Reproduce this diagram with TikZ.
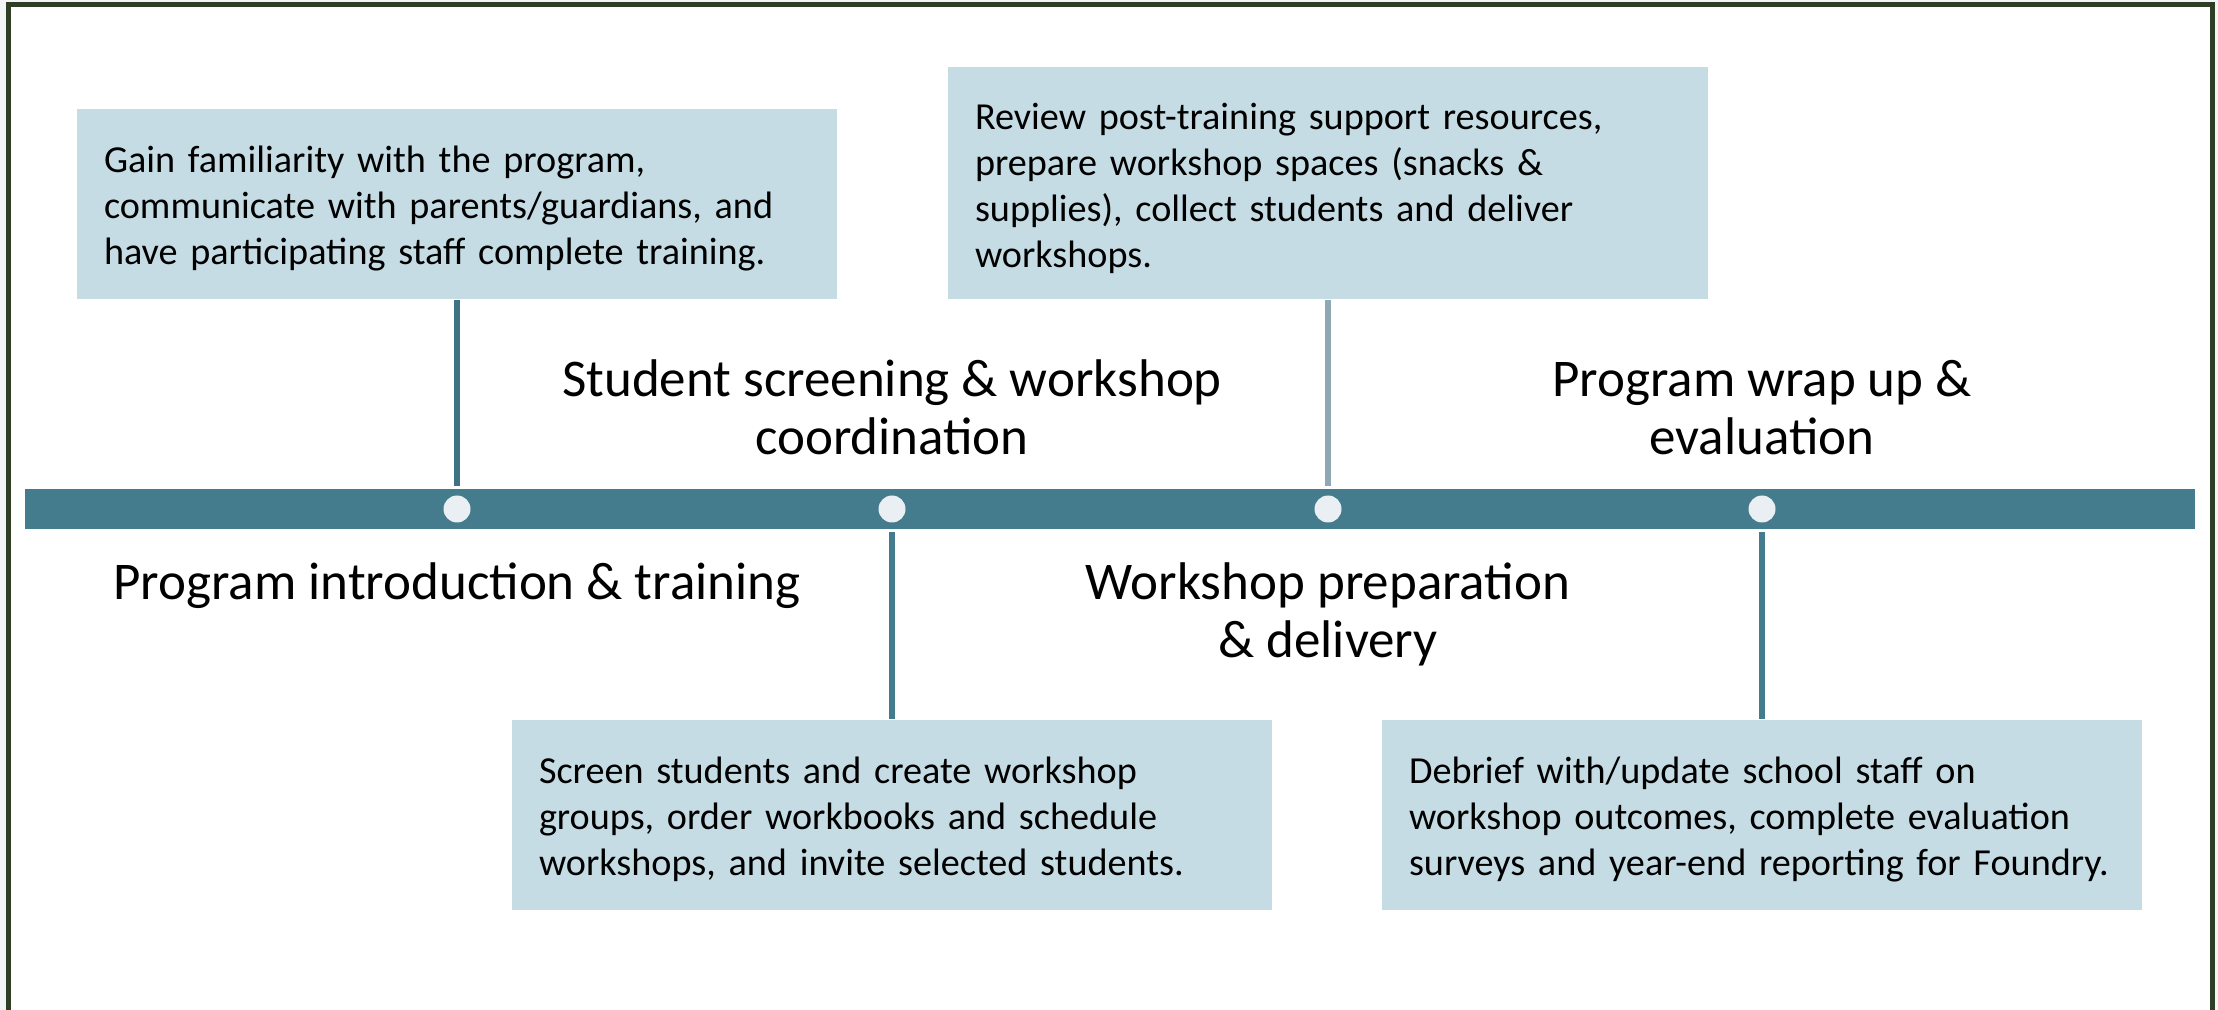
\documentclass[tikz,border=0pt]{standalone}
\usepackage{fontspec}
\setmainfont{Carlito}
\usepackage{xcolor}
\usetikzlibrary{positioning}

\definecolor{barteal}{HTML}{447C8E}
\definecolor{boxblue}{HTML}{C5DCE4}
\definecolor{dotwhite}{HTML}{E9EFF2}
\definecolor{stemteal}{HTML}{3F7384}
\definecolor{stemgrey}{HTML}{8FA9B4}
\definecolor{framegreen}{HTML}{2D3E24}
\definecolor{pagegrey}{HTML}{F2F4F6}

\begin{document}
\begin{tikzpicture}[x=0.5pt, y=-0.5pt, thick]
    \tikzstyle{infobox} = [rectangle, fill=boxblue, text width=353pt, align=left, inner xsep=13.5pt, inner ysep=13pt, minimum height=95pt, font=\fontsize{19.1}{23}\selectfont, execute at begin node={\rule{0pt}{18pt}}]
    \tikzstyle{phase} = [align=center, inner sep=0pt, font=\fontsize{26.5}{29}\selectfont]
    \tikzstyle{dot} = [circle, fill=dotwhite, minimum size=13.5pt, inner sep=0pt]
    \tikzstyle{stem} = [draw=stemteal, line width=3pt]

    % page and frame
    \useasboundingbox (0,0) rectangle (2218,1010);
    \fill [pagegrey] (0,0) rectangle (2218,1010);
    \fill [white] (8.5,5) rectangle (2212.5,1010);
    \draw [framegreen, line width=2.5pt] (8.5,1012) -- (8.5,5) -- (2212.5,5) -- (2212.5,1012);

    % the time line
    \node [rectangle, fill=barteal, minimum width=1085pt, minimum height=20pt, inner sep=0pt] (bar) at (1110,509) {};
    \node [dot] (d1) at (457,509) {};
    \node [dot] (d2) at (892,509) {};
    \node [dot] (d3) at (1328,509) {};
    \node [dot] (d4) at (1762,509) {};

    \node [infobox, above=104.5pt of d1.center] (b1) {Gain familiarity with the program,\\ communicate with parents/guardians, and\\ have participating staff complete training.};
    \node [infobox, below=105pt of d2.center] (b2) {Screen students and create workshop\\ groups, order workbooks and schedule\\ workshops, and invite selected students.};
    \node [infobox, above=104.5pt of d3.center] (b3) {Review post-training support resources,\\ prepare workshop spaces (snacks \&\\ supplies), collect students and deliver\\ workshops.};
    \node [infobox, below=105pt of d4.center] (b4) {Debrief with/update school staff on\\ workshop outcomes, complete evaluation\\ surveys and year-end reporting for Foundry.};

    \node [phase, below=26.5pt of d1.center] (t1) {Program introduction \& training};
    \node [phase, above=26.5pt of d2.center] (t2) {Student screening \& workshop\\ coordination};
    \node [phase, below=26.5pt of d3.center] (t3) {Workshop preparation\\ \& delivery};
    \node [phase, above=26.5pt of d4.center] (t4) {Program wrap up \&\\ evaluation};

    \path [stem] (b1.south) -- ([yshift=1pt]b1.south |- bar.north);
    \path [stem, draw=barteal] (b2.north) -- ([yshift=-1pt]b2.north |- bar.south);
    \path [stem, draw=stemgrey] (b3.south) -- ([yshift=1pt]b3.south |- bar.north);
    \path [stem, draw=barteal] (b4.north) -- ([yshift=-1pt]b4.north |- bar.south);
\end{tikzpicture}
\end{document}
